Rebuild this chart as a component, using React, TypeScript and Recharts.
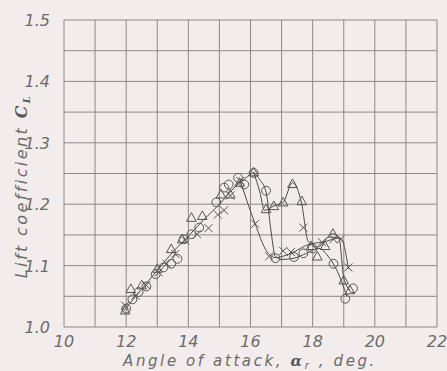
import { ComposedChart, Scatter, XAxis, YAxis, CartesianGrid } from "recharts"

// measured points, angle of attack (deg) vs lift coefficient
const circleAlpha = [12.0, 12.2, 12.4, 12.65, 12.95, 13.2, 13.45, 13.65, 13.85, 14.1, 14.35, 14.9, 15.15, 15.3, 15.6, 15.8, 16.1, 16.5, 16.8, 17.4, 17.7, 18.0, 18.67, 19.05, 19.3]
const circleCL = [1.03, 1.045, 1.057, 1.066, 1.086, 1.097, 1.103, 1.111, 1.143, 1.151, 1.162, 1.203, 1.227, 1.232, 1.243, 1.232, 1.251, 1.222, 1.112, 1.114, 1.12, 1.128, 1.103, 1.046, 1.063]

const triangleAlpha = [11.97, 12.15, 12.5, 13.0, 13.45, 13.8, 14.1, 14.45, 15.05, 15.35, 15.65, 16.1, 16.5, 16.75, 17.05, 17.35, 17.65, 17.95, 18.15, 18.4, 18.65, 19.0, 19.2]
const triangleCL = [1.027, 1.062, 1.068, 1.095, 1.127, 1.143, 1.178, 1.181, 1.216, 1.216, 1.235, 1.252, 1.192, 1.197, 1.203, 1.233, 1.205, 1.132, 1.115, 1.132, 1.152, 1.076, 1.06]

const crossAlpha = [11.97, 12.3, 12.65, 13.05, 13.3, 13.58, 13.9, 14.28, 14.65, 14.95, 15.15, 15.35, 15.67, 16.15, 16.6, 17.05, 17.3, 17.7, 18.3, 18.67, 18.9, 19.15]
const crossCL = [1.035, 1.051, 1.068, 1.089, 1.103, 1.119, 1.141, 1.151, 1.161, 1.183, 1.19, 1.214, 1.238, 1.168, 1.115, 1.124, 1.122, 1.162, 1.138, 1.143, 1.143, 1.097]

// faired curves through the test points
const riseAlpha = [11.9, 12.5, 13.0, 13.5, 14.0, 14.5, 15.0, 15.5, 15.9, 16.1]
const riseCL = [1.025, 1.062, 1.092, 1.122, 1.148, 1.175, 1.2, 1.228, 1.245, 1.252]
const circleFairAlpha = [16.1, 16.3, 16.5, 16.65, 16.8, 17.0, 17.4, 17.8, 18.2, 18.5, 18.8, 19.1]
const circleFairCL = [1.252, 1.24, 1.22, 1.16, 1.115, 1.11, 1.112, 1.12, 1.128, 1.115, 1.09, 1.05]
const triangleFairAlpha = [16.1, 16.3, 16.45, 16.75, 17.05, 17.35, 17.65, 17.85, 18.15, 18.65, 18.85, 19.0, 19.2]
const triangleFairCL = [1.252, 1.22, 1.19, 1.197, 1.203, 1.235, 1.2, 1.14, 1.13, 1.152, 1.145, 1.08, 1.06]
const crossFairAlpha = [15.67, 16.15, 16.5, 16.8, 17.3, 17.9, 18.3, 18.9, 19.15]
const crossFairCL = [1.238, 1.168, 1.125, 1.113, 1.12, 1.135, 1.138, 1.145, 1.095]

const xTicks = [10, 11, 12, 13, 14, 15, 16, 17, 18, 19, 20, 21, 22]
const yTicks = [1.0, 1.05, 1.1, 1.15, 1.2, 1.25, 1.3, 1.35, 1.4, 1.45, 1.5]

const pts = (xs: number[], ys: number[]) => xs.map((x, i) => ({ x, y: ys[i] }))

const INK = "#555"
const LINE = "#4a4a4a"
const LABEL = "#6c6a6a"
const FONT = "'DejaVu Sans', sans-serif"

const CircleMark = (p: any) => (
  <circle cx={p.cx} cy={p.cy} r={4.4} fill="none" stroke={INK} strokeWidth={1} />
)
const TriangleMark = (p: any) => (
  <path
    d={`M${p.cx},${p.cy - 5} L${p.cx + 4.8},${p.cy + 3.6} L${p.cx - 4.8},${p.cy + 3.6} Z`}
    fill="none"
    stroke={INK}
    strokeWidth={1}
  />
)
const CrossMark = (p: any) => (
  <path
    d={`M${p.cx - 4},${p.cy - 4} L${p.cx + 4},${p.cy + 4} M${p.cx - 4},${p.cy + 4} L${p.cx + 4},${p.cy - 4}`}
    stroke={INK}
    strokeWidth={1}
  />
)
const NoMark = () => <g />

const XTick = ({ x, y, payload }: any) => {
  if (payload.value % 2 !== 0) return <g />
  return (
    <text x={x} y={y + 12} textAnchor="middle" fontFamily={FONT} fontStyle="italic" fontSize={16} fill={LABEL}>
      {payload.value}
    </text>
  )
}

const YTick = ({ x, y, payload }: any) => {
  const v = Math.round(payload.value * 100)
  if (v % 10 !== 0) return <g />
  return (
    <text x={x - 6} y={y + 6} textAnchor="end" fontFamily={FONT} fontStyle="italic" fontSize={16} fill={LABEL}>
      {(v / 100).toFixed(1)}
    </text>
  )
}

export default function App() {
  return (
    <div style={{ position: "absolute", left: 0, top: 0, width: 447, height: 371, background: "#f3ecec" }}>
      <ComposedChart width={447} height={371} margin={{ top: 20, right: 10, bottom: 0, left: 0 }}>
        <CartesianGrid stroke="#8c8888" strokeWidth={1} />
        <XAxis
          type="number"
          dataKey="x"
          domain={[10, 22]}
          ticks={xTicks}
          interval={0}
          axisLine={false}
          tickLine={false}
          height={44}
          tick={<XTick />}
          label={{
            content: () => (
              <text x={250} y={366} textAnchor="middle" fontFamily={FONT} fontStyle="italic" fontSize={15} fill={LABEL} letterSpacing={2.6}>
                Angle of attack,{" "}
                <tspan fontFamily="'DejaVu Serif', serif" fontWeight="bold" fontStyle="italic" fill="#555">α</tspan>
                <tspan fontSize={10} dy={3}>r</tspan>
                <tspan dy={-3}> , deg.</tspan>
              </text>
            ),
          }}
        />
        <YAxis
          type="number"
          dataKey="y"
          domain={[1.0, 1.5]}
          ticks={yTicks}
          interval={0}
          axisLine={false}
          tickLine={false}
          width={64}
          tick={<YTick />}
          label={{
            content: () => (
              <text
                x={27}
                y={186}
                transform="rotate(-90 27 186)"
                textAnchor="middle"
                fontFamily={FONT}
                fontStyle="italic"
                fontSize={16}
                fill={LABEL}
                letterSpacing={2.4}
              >
                Lift coefficient{" "}
                <tspan fontFamily="'DejaVu Serif', serif" fontWeight="bold" fill="#555">C</tspan>
                <tspan fontSize={10} dy={3} fontFamily="'DejaVu Serif', serif" fontWeight="bold" fill="#555">L</tspan>
              </text>
            ),
          }}
        />
        <Scatter data={pts(riseAlpha, riseCL)} line={{ stroke: LINE, strokeWidth: 1 }} lineType="joint" lineJointType="monotoneX" shape={<NoMark />} isAnimationActive={false} />
        <Scatter data={pts(circleFairAlpha, circleFairCL)} line={{ stroke: LINE, strokeWidth: 1 }} lineType="joint" lineJointType="monotoneX" shape={<NoMark />} isAnimationActive={false} />
        <Scatter data={pts(triangleFairAlpha, triangleFairCL)} line={{ stroke: LINE, strokeWidth: 1 }} lineType="joint" lineJointType="monotoneX" shape={<NoMark />} isAnimationActive={false} />
        <Scatter data={pts(crossFairAlpha, crossFairCL)} line={{ stroke: LINE, strokeWidth: 1 }} lineType="joint" lineJointType="monotoneX" shape={<NoMark />} isAnimationActive={false} />
        <Scatter data={pts(circleAlpha, circleCL)} shape={<CircleMark />} isAnimationActive={false} />
        <Scatter data={pts(triangleAlpha, triangleCL)} shape={<TriangleMark />} isAnimationActive={false} />
        <Scatter data={pts(crossAlpha, crossCL)} shape={<CrossMark />} isAnimationActive={false} />
      </ComposedChart>
    </div>
  )
}
